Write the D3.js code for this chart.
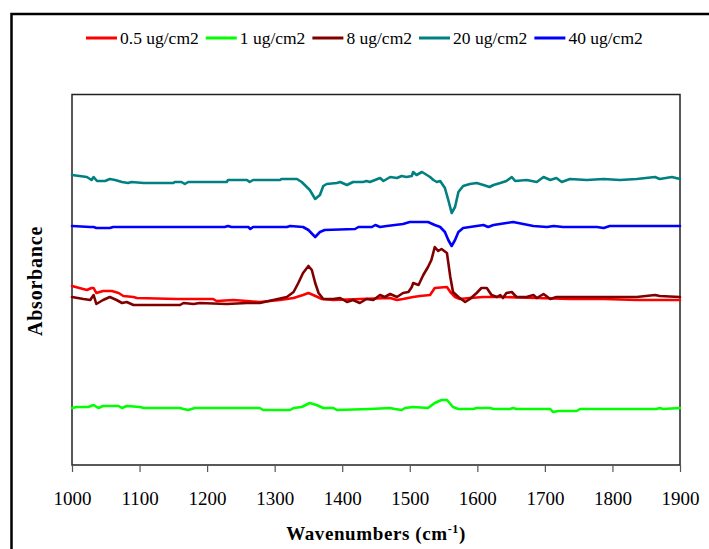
<!DOCTYPE html>
<html><head><meta charset="utf-8">
<script src="https://cdn.jsdelivr.net/npm/d3@7"></script>
<style>body{margin:0;background:#fff}svg{display:block}text{font-family:"Liberation Serif","Times New Roman",serif}</style>
</head><body>
<svg id="c" width="709" height="549"></svg>
<script>
// ---- data ----
const seriesNames = ["0.5 ug/cm2", "1 ug/cm2", "8 ug/cm2", "20 ug/cm2", "40 ug/cm2"];
const seriesColors = ["#ff0000", "#00ff00", "#800000", "#008080", "#0000ff"];
const xTicks = [1000, 1100, 1200, 1300, 1400, 1500, 1600, 1700, 1800, 1900];

// [wavenumber, absorbance (arbitrary units)]
const s05 = [[1000,1.79],[1022,1.75],[1029,1.77],[1032,1.77],[1036,1.72],[1046,1.74],[1059,1.74],[1069,1.72],[1076,1.69],[1091,1.68],[1096,1.67],[1155,1.66],[1209,1.66],[1214,1.64],[1239,1.65],[1259,1.64],[1278,1.63],[1308,1.65],[1328,1.67],[1342,1.70],[1350,1.72],[1357,1.70],[1370,1.66],[1387,1.65],[1426,1.66],[1471,1.67],[1481,1.65],[1490,1.66],[1505,1.68],[1515,1.69],[1530,1.70],[1537,1.77],[1555,1.78],[1560,1.73],[1567,1.68],[1574,1.66],[1589,1.67],[1609,1.68],[1638,1.68],[1688,1.67],[1737,1.66],[1787,1.66],[1836,1.65],[1900,1.65]];

const s1 = [[1000,0.57],[1007,0.58],[1024,0.58],[1032,0.60],[1039,0.57],[1046,0.59],[1069,0.59],[1074,0.57],[1081,0.59],[1101,0.58],[1106,0.57],[1160,0.57],[1165,0.56],[1172,0.55],[1182,0.57],[1278,0.57],[1283,0.55],[1323,0.55],[1328,0.57],[1340,0.58],[1352,0.62],[1362,0.60],[1372,0.57],[1387,0.57],[1392,0.55],[1441,0.56],[1471,0.57],[1478,0.56],[1488,0.55],[1493,0.57],[1505,0.58],[1527,0.57],[1537,0.62],[1547,0.65],[1555,0.65],[1564,0.58],[1572,0.56],[1594,0.56],[1599,0.57],[1619,0.57],[1624,0.56],[1648,0.56],[1653,0.57],[1658,0.56],[1708,0.56],[1712,0.53],[1720,0.54],[1747,0.54],[1752,0.56],[1865,0.56],[1870,0.57],[1875,0.56],[1900,0.57]];

const s8 = [[1000,1.68],[1017,1.66],[1027,1.65],[1032,1.70],[1036,1.61],[1046,1.65],[1056,1.68],[1066,1.65],[1074,1.62],[1081,1.63],[1091,1.60],[1160,1.60],[1165,1.62],[1180,1.61],[1189,1.62],[1229,1.61],[1259,1.62],[1278,1.62],[1298,1.65],[1318,1.68],[1328,1.73],[1335,1.82],[1342,1.92],[1350,1.99],[1355,1.95],[1360,1.82],[1365,1.72],[1372,1.66],[1387,1.66],[1397,1.67],[1407,1.63],[1416,1.65],[1426,1.62],[1436,1.66],[1446,1.65],[1456,1.70],[1463,1.68],[1471,1.71],[1481,1.68],[1490,1.72],[1498,1.73],[1503,1.78],[1505,1.82],[1513,1.80],[1520,1.90],[1527,1.98],[1532,2.05],[1537,2.18],[1542,2.14],[1547,2.16],[1555,2.12],[1560,1.88],[1564,1.73],[1572,1.68],[1582,1.63],[1589,1.66],[1599,1.72],[1606,1.77],[1614,1.77],[1621,1.70],[1629,1.68],[1634,1.70],[1638,1.67],[1643,1.72],[1651,1.73],[1658,1.68],[1673,1.68],[1683,1.70],[1688,1.67],[1698,1.71],[1708,1.66],[1717,1.68],[1727,1.68],[1762,1.68],[1787,1.68],[1836,1.68],[1863,1.70],[1870,1.69],[1900,1.68]];

const s20 = [[1000,2.90],[1022,2.88],[1029,2.85],[1032,2.88],[1037,2.84],[1049,2.84],[1056,2.86],[1064,2.85],[1074,2.83],[1083,2.82],[1088,2.83],[1106,2.82],[1150,2.82],[1152,2.83],[1162,2.83],[1167,2.81],[1172,2.83],[1229,2.83],[1231,2.85],[1259,2.85],[1263,2.83],[1268,2.85],[1308,2.85],[1310,2.86],[1333,2.86],[1340,2.83],[1352,2.75],[1360,2.66],[1367,2.70],[1372,2.79],[1377,2.81],[1392,2.82],[1397,2.83],[1407,2.80],[1416,2.83],[1431,2.83],[1436,2.84],[1441,2.83],[1456,2.87],[1461,2.84],[1471,2.88],[1481,2.87],[1488,2.89],[1495,2.88],[1503,2.89],[1505,2.93],[1510,2.90],[1518,2.93],[1523,2.91],[1530,2.88],[1535,2.85],[1540,2.83],[1545,2.84],[1552,2.77],[1557,2.65],[1562,2.52],[1567,2.58],[1572,2.73],[1579,2.79],[1589,2.81],[1599,2.82],[1609,2.80],[1618,2.78],[1624,2.80],[1634,2.82],[1643,2.84],[1651,2.88],[1656,2.84],[1673,2.85],[1688,2.83],[1698,2.88],[1708,2.85],[1717,2.87],[1725,2.83],[1737,2.86],[1762,2.85],[1787,2.86],[1811,2.85],[1836,2.86],[1863,2.88],[1870,2.86],[1888,2.88],[1900,2.86]];

const s40 = [[1000,2.39],[1027,2.38],[1032,2.38],[1036,2.37],[1056,2.37],[1061,2.38],[1226,2.38],[1231,2.39],[1236,2.38],[1261,2.38],[1264,2.36],[1268,2.38],[1318,2.38],[1323,2.39],[1342,2.38],[1350,2.35],[1360,2.28],[1367,2.33],[1374,2.35],[1419,2.36],[1424,2.38],[1444,2.38],[1449,2.40],[1456,2.38],[1466,2.39],[1490,2.41],[1500,2.43],[1515,2.43],[1527,2.43],[1537,2.40],[1545,2.38],[1552,2.33],[1557,2.25],[1562,2.19],[1567,2.25],[1572,2.33],[1579,2.37],[1589,2.38],[1609,2.40],[1616,2.38],[1624,2.40],[1643,2.42],[1653,2.43],[1668,2.41],[1683,2.39],[1703,2.38],[1713,2.39],[1727,2.38],[1757,2.38],[1777,2.38],[1787,2.37],[1796,2.39],[1900,2.39]];

const allSeries = [s05, s1, s8, s20, s40];

// ---- drawing ----
const svg = d3.select("#c");
const W = 709, H = 549;
const plot = {left: 72, right: 680, top: 94.5, bottom: 465};
const serif = "'Liberation Serif','Times New Roman',serif";

// outer frame (extends beyond the window on right/bottom)
svg.append("rect").attr("x", 11.5).attr("y", 14).attr("width", W + 20).attr("height", H + 20)
  .attr("fill", "#fff").attr("stroke", "#000").attr("stroke-width", 2.5);

const x = d3.scaleLinear().domain([1000, 1900]).range([plot.left, plot.right]);
const y = d3.scaleLinear().domain([0, 3.7]).range([plot.bottom, plot.bottom - 370]);

// plot border
svg.append("rect").attr("x", plot.left).attr("y", plot.top)
  .attr("width", plot.right - plot.left).attr("height", plot.bottom - plot.top)
  .attr("fill", "none").attr("stroke", "#222").attr("stroke-width", 1.5);

// x axis
const xAxis = d3.axisBottom(x).tickValues(xTicks).tickSize(7).tickPadding(20).tickFormat(d3.format("d"));
const gx = svg.append("g").attr("transform", `translate(0,${plot.bottom})`).call(xAxis);
gx.attr("font-family", serif);
gx.select(".domain").remove();
gx.selectAll(".tick line").attr("stroke", "#555").attr("stroke-width", 1.2);
gx.selectAll(".tick text").attr("font-family", serif).attr("font-size", 19).attr("fill", "#000");

// lines
const line = d3.line().x(d => x(d[0])).y(d => y(d[1]));
allSeries.forEach((s, i) => {
  svg.append("path").datum(s).attr("d", line).attr("fill", "none")
    .attr("stroke", seriesColors[i]).attr("stroke-width", 2.6)
    .attr("stroke-linejoin", "round").attr("stroke-linecap", "round");
});

// x title
const xt = svg.append("text").attr("x", (plot.left + plot.right) / 2).attr("y", 540)
  .attr("text-anchor", "middle").attr("font-family", serif)
  .attr("font-weight", "bold").attr("font-size", 19).attr("letter-spacing", 0.6);
xt.append("tspan").text("Wavenumbers (cm");
xt.append("tspan").attr("dy", -7).attr("font-size", 12).text("-1");
xt.append("tspan").attr("dy", 7).text(")");

// y title
svg.append("text").attr("transform", "translate(42,281) rotate(-90)")
  .attr("text-anchor", "middle").attr("font-family", serif)
  .attr("font-weight", "bold").attr("font-size", 20).attr("letter-spacing", 0.8)
  .text("Absorbance");

// legend
let lx = 86;
const ly = 38;
seriesNames.forEach((n, i) => {
  svg.append("line").attr("x1", lx).attr("x2", lx + 31).attr("y1", ly).attr("y2", ly)
    .attr("stroke", seriesColors[i]).attr("stroke-width", 3);
  const t = svg.append("text").attr("x", lx + 34).attr("y", ly + 5.5)
    .attr("font-family", serif).attr("font-size", 17.5)
    .text(n);
  lx = lx + 34 + t.node().getComputedTextLength() + 7;
});
</script>
</body></html>
